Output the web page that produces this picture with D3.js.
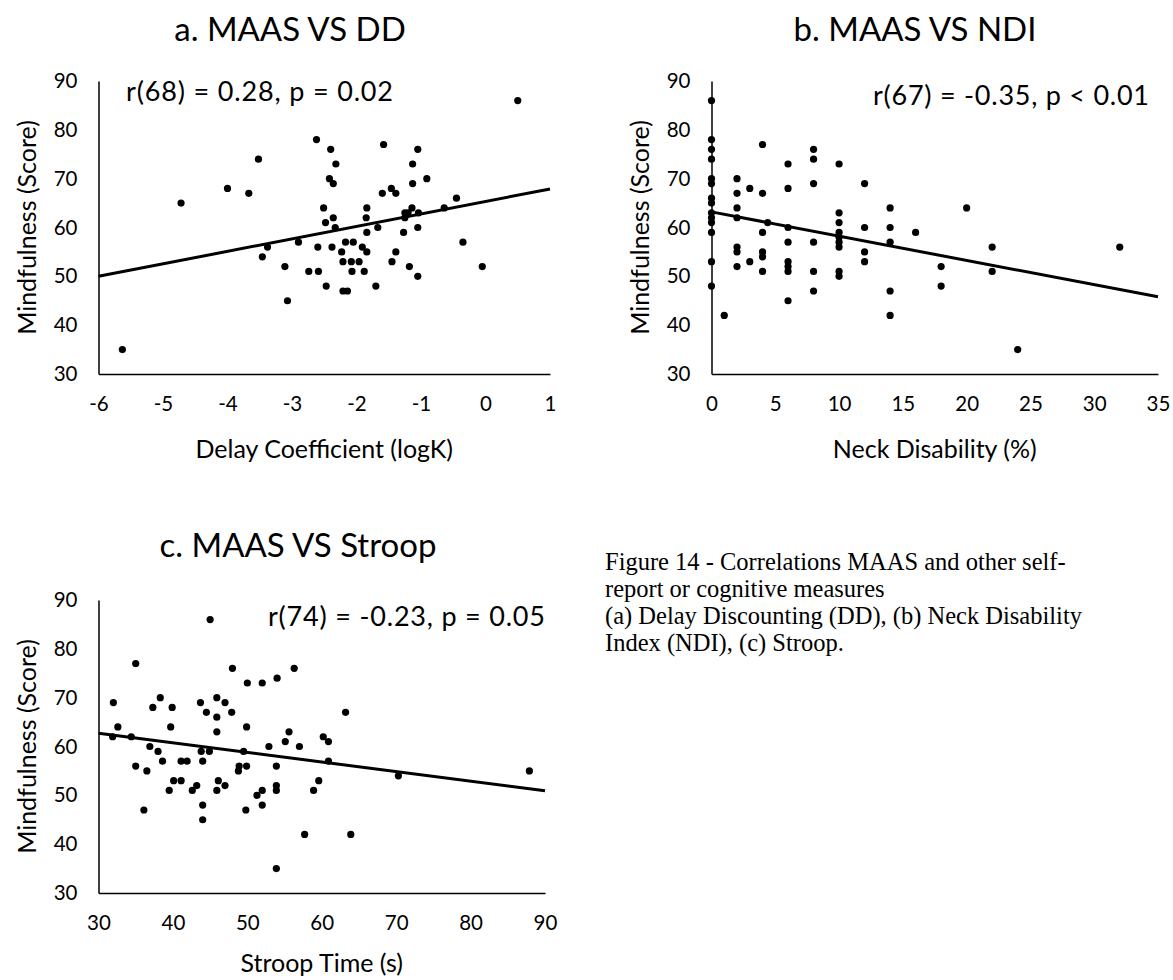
<!DOCTYPE html>
<html>
<head>
<meta charset="utf-8">
<script src="https://cdn.jsdelivr.net/npm/d3@7"></script>
<style>
  body { margin: 0; background: #fff; }
  svg text { font-family: Lato, "Open Sans", sans-serif; fill: #000; }
  .caption { font-family: "Liberation Serif", "Times New Roman", serif; }
</style>
</head>
<body>
<div id="chart"></div>
<script>
// a. MAAS vs DD : delay coefficient (logK) / mindfulness score
var ddX = [-5.63,-4.72,-4.0,-3.67,-3.52,-3.38,-3.46,-3.11,-3.07,-2.90,-2.74,-2.59,-2.60,-2.47,-2.62,-2.51,-2.48,0.50,-2.40,-2.32,-2.42,-2.36,-1.58,-1.05,-1.13,-0.91,-1.13,-1.60,-1.46,-1.39,-0.45,-0.64,-1.84,-2.36,-2.33,-1.85,-1.84,-1.67,-1.25,-1.20,-1.14,-1.04,-1.25,-1.05,-1.27,-0.35,-2.38,-2.17,-2.05,-2.23,-1.91,-1.84,-2.21,-2.08,-1.96,-1.39,-1.45,-2.07,-1.88,-1.18,-1.05,-2.21,-2.14,-1.70,-0.05];
var ddY = [35,65,68,67,74,56,54,52,45,57,51,51,56,48,78,64,61,86,76,73,70,69,77,76,73,70,69,67,68,67,66,64,64,62,60,62,59,60,63,63,64,63,62,60,59,57,56,57,57,55,56,55,53,53,53,55,53,51,51,52,50,47,47,48,52];
var ddTrend = [[-6, 50.0], [1, 67.9]];

// b. MAAS vs NDI : neck disability (%) / mindfulness score
var ndiX = [0,0,0,0,0,0,0,0,0,0,0,0,0,0, 1, 2,2,2,2,2,2,2, 3,3, 4,4,4,4,4,4, 4.4, 6,6,6,6,6,6,6,6, 8,8,8,8,8,8, 10,10,10,10,10,10,10,10,10, 12,12,12,12, 14,14,14,14,14, 16, 18,18, 20, 22,22, 24, 32];
var ndiY = [86,78,76,74,70,69,66,65,63,62,61,59,53,48, 42, 70,67,64,62,56,55,52, 68,53, 77,67,59,55,54,51, 61, 73,68,60,57,53,52,51,45, 76,74,69,57,51,47, 73,63,61,59,58,57,56,51,50, 69,60,55,53, 64,60,57,47,42, 59, 52,48, 64, 56,51, 35, 56];
var ndiTrend = [[0, 63.2], [35, 45.8]];

// c. MAAS vs Stroop : stroop time (s) / mindfulness score
var stroopX = [45,35,48,56.3,50,52,54,32,38.3,37.3,39.9,43.7,45.9,47,44.5,45.9,47.9,32.6,39.7,49.9,45.9,31.9,34.4,36.9,38,38.6,35,36.5,41.1,41.9,43.8,44.9,44,40.1,41.1,39.5,42.6,43.2,46.1,47,45.9,44,44,36.1,49.5,48.9,48.8,49.9,49.8,51.3,52,52,52.9,53.9,53.9,53.9,55.6,55.1,57,57.7,53.9,60.2,60.9,59.6,58.9,60.9,63.2,70.3,87.9,63.9];
var stroopY = [86,77,76,76,73,73,74,69,70,68,68,69,70,69,67,66,67,64,64,64,63,62,62,60,59,57,56,55,57,57,59,59,57,53,53,51,51,52,53,52,51,48,45,47,59,56,55,56,47,50,51,48,60,56,52,51,63,61,60,42,35,62,61,53,51,57,67,54,55,42];
var stroopTrend = [[30, 62.7], [90, 50.95]];

var yTicks = [30, 40, 50, 60, 70, 80, 90];
var ddTicks = [-6, -5, -4, -3, -2, -1, 0, 1];
var ndiTicks = [0, 5, 10, 15, 20, 25, 30, 35];
var stroopTicks = [30, 40, 50, 60, 70, 80, 90];

var captionLines = [
  "Figure 14 - Correlations MAAS and other self-",
  "report or cognitive measures",
  "(a) Delay Discounting (DD), (b) Neck Disability",
  "Index (NDI), (c) Stroop."
];

var svg = d3.select("#chart").append("svg")
    .attr("width", 1173)
    .attr("height", 980);

// plain hyphen for negatives, like the original
function fmt(d) { return d < 0 ? "-" + Math.abs(d) : String(d); }

function drawPanel(p) {
    var g = svg.append("g");

    var x = d3.scaleLinear().domain(p.xDomain).range([p.left, p.right]);
    var y = d3.scaleLinear().domain([30, 90]).range([p.bottom, p.top]);

    var xAxis = d3.axisBottom(x).tickValues(p.xTicks).tickFormat(fmt).tickSize(0).tickPadding(22);
    var yAxis = d3.axisLeft(y).tickValues(yTicks).tickFormat(fmt).tickSize(0).tickPadding(21);

    var gx = g.append("g")
        .attr("transform", "translate(0," + p.bottom + ")")
        .call(xAxis);
    var gy = g.append("g")
        .attr("transform", "translate(" + p.left + ",0)")
        .call(yAxis);

    [gx, gy].forEach(function (a) {
        a.select(".domain").attr("stroke", "#000").attr("stroke-width", 1.5);
        a.selectAll("text").style("font-size", "20.5px").attr("fill", "#000");
    });

    // title
    g.append("text")
        .attr("x", p.titleX)
        .attr("y", p.titleY)
        .style("text-anchor", "middle")
        .style("font-size", "33px")
        .text(p.title);

    // axis labels
    g.append("text")
        .attr("x", (p.left + p.right) / 2)
        .attr("y", p.bottom + p.xLabelDy)
        .style("text-anchor", "middle")
        .style("font-size", "25px")
        .text(p.xLabel);

    g.append("text")
        .attr("transform", "rotate(-90)")
        .attr("x", -(p.top + p.bottom) / 2)
        .attr("y", p.left - 63)
        .style("text-anchor", "middle")
        .style("font-size", "25px")
        .text("Mindfulness (Score)");

    // correlation note
    g.append("text")
        .attr("x", p.noteX)
        .attr("y", p.noteY)
        .attr("textLength", p.noteW)
        .attr("lengthAdjust", "spacing")
        .style("font-size", "27px")
        .text(p.note);

    // trend line
    var line = d3.line()
        .x(function (d) { return x(d[0]); })
        .y(function (d) { return y(d[1]); });

    g.append("path")
        .datum(p.trend)
        .attr("d", line)
        .attr("fill", "none")
        .attr("stroke", "#000")
        .attr("stroke-width", 3);

    // points
    g.selectAll(".dot")
        .data(d3.range(p.xs.length))
        .enter()
        .append("circle")
        .attr("class", "dot")
        .attr("cx", function (i) { return x(p.xs[i]); })
        .attr("cy", function (i) { return y(p.ys[i]); })
        .attr("r", 3.6)
        .attr("fill", "#000");
}

drawPanel({
    left: 98.5, right: 550, top: 81, bottom: 374,
    xDomain: [-6, 1], xTicks: ddTicks,
    xs: ddX, ys: ddY, trend: ddTrend,
    title: "a. MAAS VS DD", titleX: 290, titleY: 41,
    xLabel: "Delay Coefficient (logK)", xLabelDy: 84,
    note: "r(68) = 0.28, p = 0.02", noteX: 126, noteY: 101, noteW: 267
});

drawPanel({
    left: 711.5, right: 1158, top: 81, bottom: 374,
    xDomain: [0, 35], xTicks: ndiTicks,
    xs: ndiX, ys: ndiY, trend: ndiTrend,
    title: "b. MAAS VS NDI", titleX: 915, titleY: 41,
    xLabel: "Neck Disability (%)", xLabelDy: 84,
    note: "r(67) = -0.35, p < 0.01", noteX: 873, noteY: 105, noteW: 276
});

drawPanel({
    left: 98.5, right: 545, top: 600, bottom: 893,
    xDomain: [30, 90], xTicks: stroopTicks,
    xs: stroopX, ys: stroopY, trend: stroopTrend,
    title: "c. MAAS VS Stroop", titleX: 298, titleY: 557,
    xLabel: "Stroop Time (s)", xLabelDy: 79,
    note: "r(74) = -0.23, p = 0.05", noteX: 268, noteY: 626, noteW: 277
});

// figure caption
svg.append("g").selectAll("text")
    .data(captionLines)
    .enter()
    .append("text")
    .attr("class", "caption")
    .attr("x", 605)
    .attr("y", function (d, i) { return 570 + i * 27; })
    .style("font-size", "24.5px")
    .text(function (d) { return d; });
</script>
</body>
</html>
